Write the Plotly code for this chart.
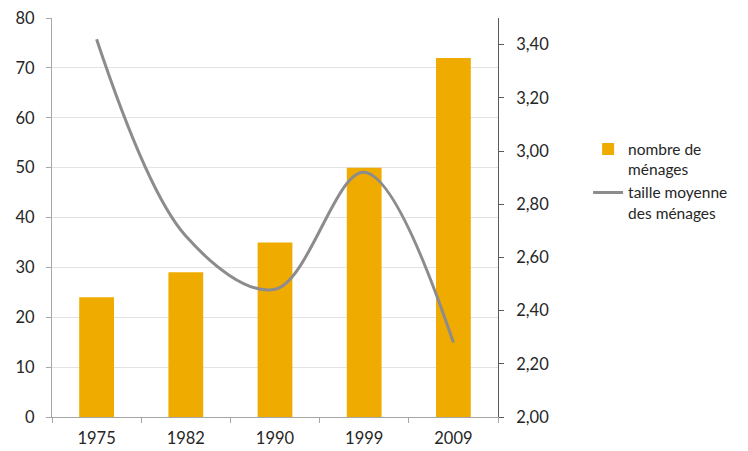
"""Nombre et taille moyenne des ménages."""

import plotly.graph_objects as go

# Data
years = ["1975", "1982", "1990", "1999", "2009"]
nb_menages = [24, 29, 35, 50, 72]
taille_moyenne = [3.42, 2.68, 2.48, 2.92, 2.28]

BAR_COLOR = "#F0AB00"
LINE_COLOR = "#8C8C8E"
TEXT_COLOR = "#262626"
FONT = "Lato"
TICK_SIZE = 16.5

fig = go.Figure()

fig.add_trace(
    go.Bar(
        x=years,
        y=nb_menages,
        name="nombre de<br>ménages",
        marker=dict(color=BAR_COLOR, line=dict(width=0)),
        width=0.39,
    )
)

fig.add_trace(
    go.Scatter(
        x=years,
        y=taille_moyenne,
        name="taille moyenne<br>des ménages",
        mode="lines",
        line=dict(color=LINE_COLOR, width=3, shape="spline", smoothing=1.0),
        yaxis="y2",
    )
)

# the page body adds an 8px margin, so the paper is a bit smaller than the window
fig.update_layout(
    width=740,
    height=443,
    margin=dict(l=44, r=250, t=10, b=34),
    plot_bgcolor="white",
    paper_bgcolor="white",
    separators=", ",
    font=dict(family=FONT, color=TEXT_COLOR, size=14),
    showlegend=True,
    legend=dict(
        x=1.202,
        y=0.713,
        xanchor="left",
        yanchor="top",
        font=dict(size=15.5, family=FONT, color=TEXT_COLOR),
        tracegroupgap=0,
        itemwidth=30,
        valign="top",
        bgcolor="rgba(0,0,0,0)",
    ),
    xaxis=dict(
        type="category",
        automargin=False,
        showgrid=False,
        showline=True,
        linecolor="#A6A6A6",
        linewidth=1,
        ticks="outside",
        tickson="boundaries",
        ticklen=5,
        tickcolor="#A6A6A6",
        ticklabelstandoff=6,
        tickfont=dict(size=TICK_SIZE),
    ),
    yaxis=dict(
        range=[0, 80],
        dtick=10,
        automargin=False,
        showgrid=True,
        gridcolor="#E3E3E3",
        gridwidth=1,
        showline=True,
        linecolor="#A6A6A6",
        linewidth=1,
        ticks="outside",
        ticklen=5,
        tickcolor="#A6A6A6",
        zeroline=False,
        ticklabelstandoff=8,
        ticklabeloverflow="allow",
        tickfont=dict(size=TICK_SIZE),
    ),
    yaxis2=dict(
        overlaying="y",
        side="right",
        range=[2.0, 3.5],
        dtick=0.2,
        tick0=2.0,
        tickformat=".2f",
        automargin=False,
        showgrid=False,
        showline=True,
        linecolor="#595959",
        linewidth=1,
        ticks="outside",
        ticklen=5,
        tickcolor="#595959",
        zeroline=False,
        ticklabelstandoff=9,
        tickfont=dict(size=TICK_SIZE),
    ),
)

fig.write_html("out.html")
